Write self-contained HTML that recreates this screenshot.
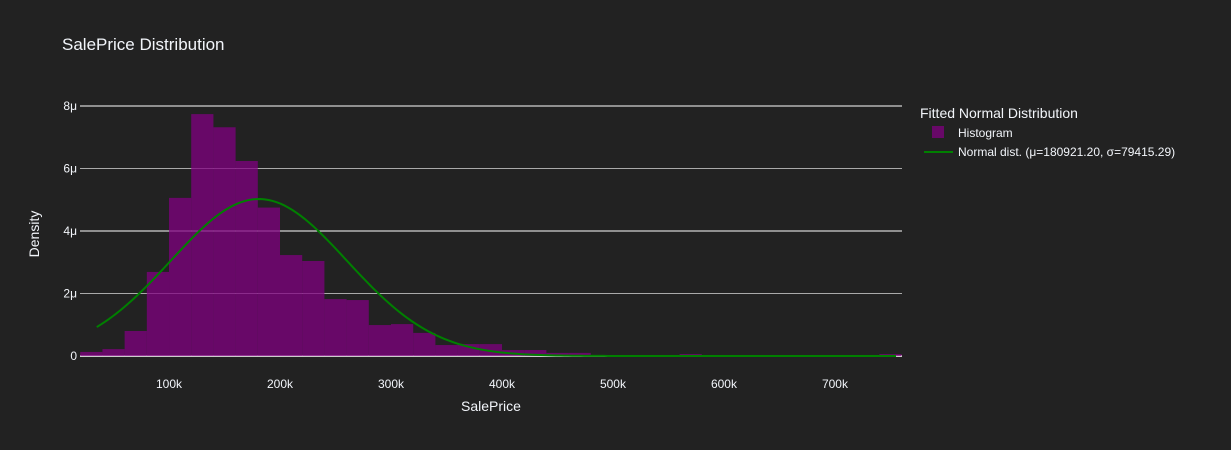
<!DOCTYPE html>
<html><head><meta charset="utf-8">
<style>
html,body{margin:0;padding:0;background:#222222;}
svg{display:block;font-family:"Liberation Sans","DejaVu Sans",sans-serif;}
</style></head>
<body>
<svg id="chart" width="1231" height="450" viewBox="0 0 1231 450">
<rect x="0" y="0" width="1231" height="450" fill="#222222"/>
<text x="62" y="50" fill="#f2f5fa" font-size="17">SalePrice Distribution</text>
<g id="grid"></g>
<g id="bars"></g>
<g id="curve"></g>
<g id="xticks"></g>
<g id="yticks"></g>
<text x="491" y="411" fill="#f2f5fa" font-size="14" text-anchor="middle">SalePrice</text>
<text x="0" y="0" transform="translate(39,234) rotate(-90)" fill="#f2f5fa" font-size="14" text-anchor="middle">Density</text>
<g>
<text x="920" y="118" fill="#f2f5fa" font-size="14">Fitted Normal Distribution</text>
<g>
<rect x="932" y="126" width="12" height="12" fill="purple" opacity="0.75"/>
<text x="958" y="137" fill="#f2f5fa" font-size="12">Histogram</text>
</g>
<g>
<line x1="924" y1="152" x2="953" y2="152" stroke="green" stroke-width="2"/>
<text x="958" y="156" fill="#f2f5fa" font-size="12">Normal dist. (μ=180921.20, σ=79415.29)</text>
</g>
</g>
</svg>
<script>
const binStarts = [20,40,60,80,100,120,140,160,180,200,220,240,260,280,300,320,340,360,380,400,420,440,460,480,500,520,540,560,580,600,620,640,660,680,700,720,740];
const binDensity = [0.13,0.22,0.8,2.69,5.06,7.74,7.32,6.24,4.75,3.23,3.04,1.82,1.79,0.99,1.02,0.74,0.35,0.38,0.38,0.19,0.19,0.1,0.1,0.02,0.02,0.02,0.02,0.06,0.03,0.03,0.02,0.02,0.02,0.02,0.02,0.02,0.06];
const binWidth = 20;
const fitMu = [180921.20];
const fitSigma = [79415.29];
const curveRange = [34900, 755000];
const xTicks = [100,200,300,400,500,600,700];
const xTickLabels = ["100k","200k","300k","400k","500k","600k","700k"];
const yTicks = [0,2,4,6,8];
const yTickLabels = ["0","2μ","4μ","6μ","8μ"];

const NS = "http://www.w3.org/2000/svg";
const X0 = 80, X1 = 902, Y0 = 356, Y1 = 106;
const xMin = 19.8, xMax = 760.4, yMax = 8;
function xs(k){ return X0 + (k - xMin) / (xMax - xMin) * (X1 - X0); }
function ys(v){ return Y0 - v / yMax * (Y0 - Y1); }
function mk(tag, attrs, parent){ const e = document.createElementNS(NS, tag); for (const k in attrs) e.setAttribute(k, attrs[k]); parent.appendChild(e); return e; }

const grid = document.getElementById('grid');
yTicks.forEach((t, i) => {
  const l = mk('line', {x1: X0, x2: X1, y1: ys(t), y2: ys(t), stroke: t === 0 ? '#cccccc' : (i % 2 === 0 ? '#ffffff' : '#aaaaaa'), 'stroke-width': t === 0 ? 2 : 1}, grid);
  
  
});

const bars = document.getElementById('bars');
binStarts.forEach((s, i) => {
  const x = xs(s), w = xs(s + binWidth) - x, y = ys(binDensity[i]);
  const r = mk('rect', {x: x, y: y, width: w, height: Y0 - y, fill: 'purple', opacity: 0.75}, bars);
  
  
});

const curve = document.getElementById('curve');
const mu = fitMu[0], sg = fitSigma[0];
let d = '';
const N = 200;
for (let i = 0; i <= N; i++) {
  const v = curveRange[0] + (curveRange[1] - curveRange[0]) * i / N;
  const p = Math.exp(-0.5 * Math.pow((v - mu) / sg, 2)) / (sg * Math.sqrt(2 * Math.PI)) * 1e6;
  d += (i ? 'L' : 'M') + xs(v / 1000).toFixed(2) + ',' + ys(p).toFixed(2);
}
const path = mk('path', {d: d, fill: 'none', stroke: 'green', 'stroke-width': 2}, curve);



const xt = document.getElementById('xticks');
xTicks.forEach((t, i) => {
  const e = mk('text', {x: xs(t), y: 388, fill: '#f2f5fa', 'font-size': 12, 'text-anchor': 'middle'}, xt);
  e.textContent = xTickLabels[i];
  
  
});
const yt = document.getElementById('yticks');
yTicks.forEach((t, i) => {
  const e = mk('text', {x: 77, y: ys(t) + 4, fill: '#f2f5fa', 'font-size': 12, 'text-anchor': 'end'}, yt);
  e.textContent = yTickLabels[i];
  
  
});
</script>
</body></html>
